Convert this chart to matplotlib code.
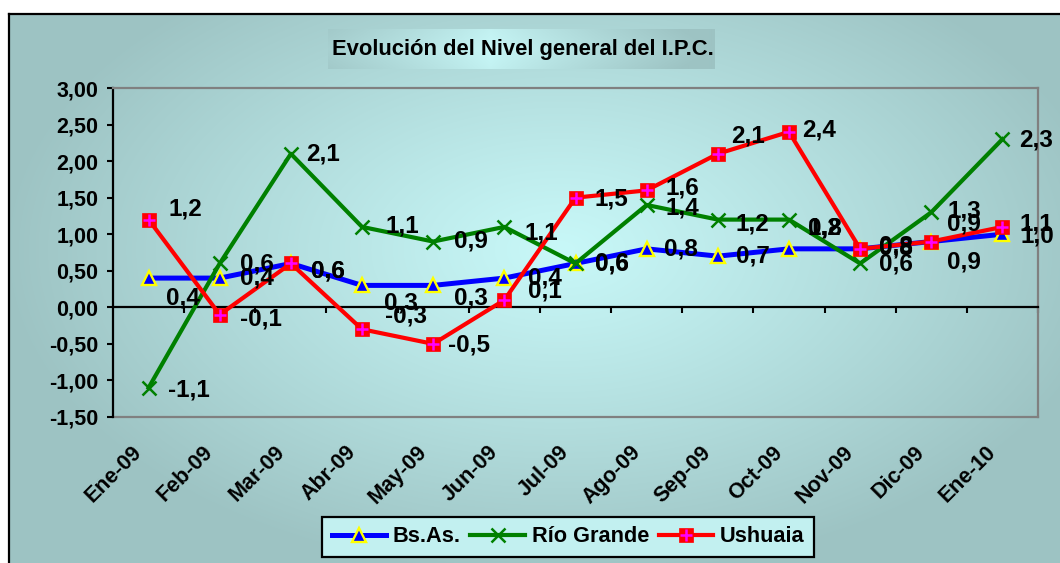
import numpy as np
import matplotlib
matplotlib.use("Agg")
import matplotlib.pyplot as plt
from matplotlib.lines import Line2D
from matplotlib.legend_handler import HandlerTuple
import matplotlib.transforms as mtransforms

plt.rcParams['font.family'] = ['Liberation Sans', 'DejaVu Sans']
plt.rcParams['font.weight'] = 'bold'

# ---------------- data ----------------
months = ["Ene-09", "Feb-09", "Mar-09", "Abr-09", "May-09", "Jun-09", "Jul-09",
          "Ago-09", "Sep-09", "Oct-09", "Nov-09", "Dic-09", "Ene-10"]
bsas = [0.4, 0.4, 0.6, 0.3, 0.3, 0.4, 0.6, 0.8, 0.7, 0.8, 0.8, 0.9, 1.0]
rio_grande = [-1.1, 0.6, 2.1, 1.1, 0.9, 1.1, 0.6, 1.4, 1.2, 1.2, 0.6, 1.3, 2.3]
ushuaia = [1.2, -0.1, 0.6, -0.3, -0.5, 0.1, 1.5, 1.6, 2.1, 2.4, 0.8, 0.9, 1.1]
series_names = ["Bs.As.", "Río Grande", "Ushuaia"]
title = "Evolución del Nivel general del I.P.C."
yticks = [-1.5, -1.0, -0.5, 0.0, 0.5, 1.0, 1.5, 2.0, 2.5, 3.0]

# data-label placement (pixel offsets from the point: dx to the right, dy downward)
bsas_lbl_off = [(17, 20), (20, 0), (20, 8), (22, 18), (21, 13), (24, 0), (19, 0),
                (17, 0), (18, 0), (19, -21), (19, -1), (16, 20), (18, 2)]
rio_lbl_off = [(19, 2), (20, 1), (15, 0), (23, -1), (21, -1), (20, 6), (19, 1),
               (19, 3), (18, 4), (19, 8), (19, 1), (16, -1), (17, 1)]
ush_lbl_off = [(20, -11), (20, 4), (20, 8), (23, -13), (15, 1), (24, -9), (19, 1),
               (19, -2), (13, -18), (13, -2), (19, -3), (16, -18), (17, -3)]

W, H = 1060, 563
fig = plt.figure(figsize=(W / 100, H / 100), dpi=100, facecolor="white")


def fx(px):
    return px / W


def fy(py):
    return 1 - py / H


# ---------------- background gradient ----------------
x0, y0 = 8, 13
xs = np.arange(x0, W) + 0.5
ys = np.arange(y0, H) + 0.5
X, Y = np.meshgrid(xs, ys)
cx, cy, rx, ry = 560, 250, 560, 330
t = np.clip(np.sqrt(((X - cx) / rx) ** 2 + ((Y - cy) / ry) ** 2), 0, 1) ** 1.1
light = np.array([200, 248, 248]) / 255
dark = np.array([157, 195, 195]) / 255
img = light[None, None, :] + (dark - light)[None, None, :] * t[..., None]
bg = fig.add_axes([fx(x0), 0, 1 - fx(x0), (H - y0) / H])
bg.imshow(img, aspect="auto", extent=[0, 1, 0, 1], interpolation="bilinear")
bg.set_axis_off()
fig.add_artist(Line2D([fx(9), fx(9)], [0, fy(14)], transform=fig.transFigure,
                      color="black", lw=1.6))
fig.add_artist(Line2D([fx(9), 1], [fy(14), fy(14)], transform=fig.transFigure,
                      color="black", lw=1.6))

# ---------------- title box ----------------
tb = fig.add_axes([fx(328), fy(69), fx(715 - 328), (69 - 29) / H])
u = np.linspace(0, 1, 400)
v = np.linspace(0, 1, 40)
U, V = np.meshgrid(u, v)
tt = np.clip(np.abs(U - 0.42) / 0.58, 0, 1) ** 0.9
tt = np.clip(tt + 0.25 * np.abs(V - 0.5) * 2 * 0.5, 0, 1)
timg = light[None, None, :] + (dark - light)[None, None, :] * tt[..., None]
tb.imshow(timg, aspect="auto", extent=[0, 1, 0, 1])
tb.set_axis_off()
fig.text(fx(523), fy(49), title, ha="center", va="center", fontsize=15.8,
         fontweight="bold", color="black")

# ---------------- main axes ----------------
ax = fig.add_axes([fx(113), fy(417), fx(1038 - 113), (417 - 88) / H])
ax.patch.set_visible(False)
ax.set_xlim(-0.5, len(months) - 0.5)
ax.set_ylim(-1.5, 3.0)
ax.set_yticks(yticks)
ax.set_yticklabels([f"{v:.2f}".replace(".", ",") for v in yticks],
                   fontsize=15.5, fontweight="bold")
ax.tick_params(axis="y", direction="out", length=4.5, width=1.5, pad=6, color="black")
ax.set_xticks(np.arange(len(months)) + 0.5)
ax.set_xticklabels([])
ax.tick_params(axis="x", direction="out", length=4.5, width=1.5, color="black")

for s in ["top", "right"]:
    ax.spines[s].set_color("#808080")
    ax.spines[s].set_linewidth(1.6)
ax.spines["left"].set_color("black")
ax.spines["left"].set_linewidth(1.6)
ax.spines["bottom"].set_position(("data", 0))
ax.spines["bottom"].set_color("black")
ax.spines["bottom"].set_linewidth(1.6)
ax.plot([0, 1], [0, 0], transform=ax.transAxes, color="#808080", lw=1.6,
        clip_on=False, zorder=1)

x = np.arange(len(months))
lb, = ax.plot(x, bsas, color="#0000ff", lw=3.6, marker="^", markersize=9.5,
              markerfacecolor="#0000ff", markeredgecolor="#ffff00",
              markeredgewidth=1.7, zorder=3)
lg, = ax.plot(x, rio_grande, color="#008000", lw=3.0, marker="x", markersize=9.5,
              markeredgewidth=1.8, markeredgecolor="#008000", zorder=4)
lr, = ax.plot(x, ushuaia, color="#ff0000", lw=3.0, marker="s", markersize=10.5,
              markerfacecolor="#ff0000", markeredgecolor="#ff0000",
              markeredgewidth=0.5, zorder=5)
lp, = ax.plot(x, ushuaia, ls="none", marker="+", markersize=8,
              markeredgewidth=1.8, color="#ff00ff", zorder=6)


def fmt(v):
    return f"{v:.1f}".replace(".", ",")


for vals, offs in [(bsas, bsas_lbl_off), (rio_grande, rio_lbl_off), (ushuaia, ush_lbl_off)]:
    for i, (v, (dx, dy)) in enumerate(zip(vals, offs)):
        ax.annotate(fmt(v), (i, v), xytext=(dx, -dy), textcoords="offset pixels",
                    ha="left", va="center", fontsize=17.5, fontweight="bold",
                    color="black", zorder=10, annotation_clip=False)

# category labels
base = mtransforms.blended_transform_factory(ax.transData, ax.transAxes)
for i, m in enumerate(months):
    tr = mtransforms.offset_copy(base, fig=fig, x=-17, y=-25, units="dots")
    ax.text(i, 0, m, transform=tr, rotation=45, ha="right", va="top",
            rotation_mode="anchor", fontsize=15.5, fontweight="bold")

# ---------------- legend ----------------
leg = fig.legend([lb, lg, (lr, lp)], series_names, loc="center",
                 bbox_to_anchor=(fx(568), fy(537)), ncol=3, frameon=True,
                 fancybox=False, edgecolor="black", facecolor="#c2f0f0",
                 framealpha=1, prop={"size": 15.7, "weight": "bold"},
                 handlelength=2.5, handletextpad=0.3, columnspacing=0.45,
                 borderpad=0.45, borderaxespad=0,
                 handler_map={tuple: HandlerTuple(ndivide=1)})
leg.get_frame().set_linewidth(1.6)

fig.savefig("out.png", dpi=100, facecolor="white")
